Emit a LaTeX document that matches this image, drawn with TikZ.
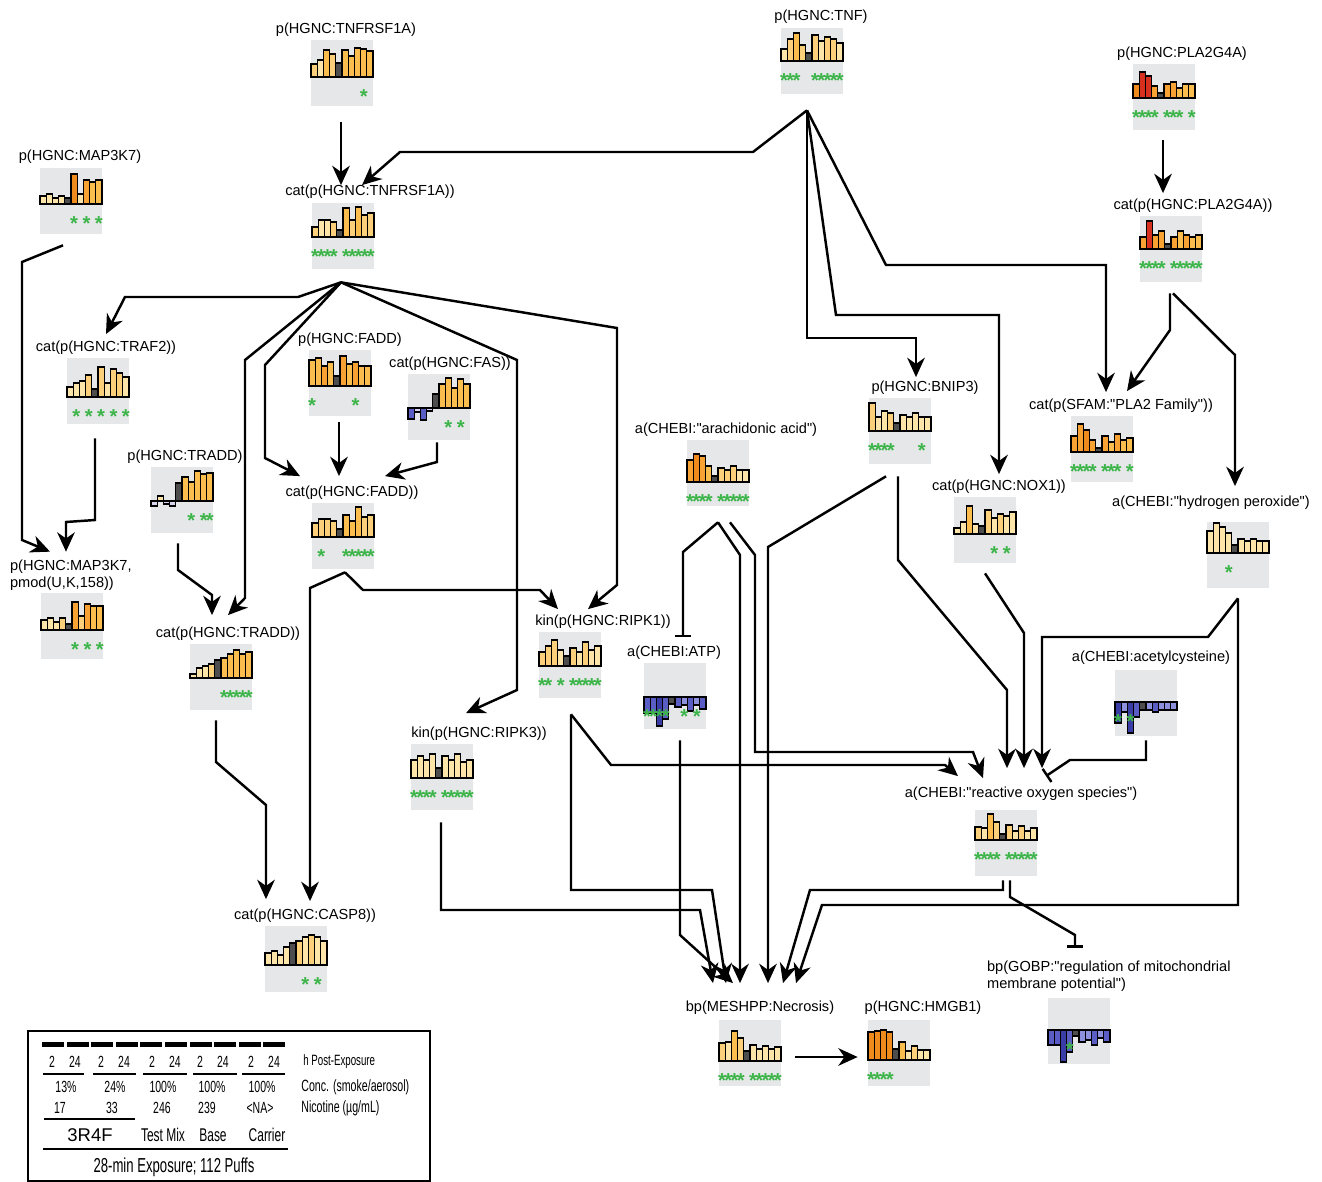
\documentclass[tikz,border=0pt]{standalone}
\usepackage{fontspec}
\setmainfont{Liberation Sans}[Ligatures=TeXOff]
\newfontfamily\narrowfont[FakeStretch=0.65]{Liberation Sans}
\usetikzlibrary{arrows.meta,calc}
\definecolor{cA}{HTML}{FDE4A8}
\definecolor{cB}{HTML}{FCD07A}
\definecolor{cC}{HTML}{FBBD4E}
\definecolor{cD}{HTML}{F7A233}
\definecolor{cE}{HTML}{EF8A1C}
\definecolor{cR}{HTML}{D7301F}
\definecolor{dk}{HTML}{4D4D4D}
\definecolor{bA}{HTML}{3B3DA6}
\definecolor{bB}{HTML}{5A5EC4}
\definecolor{bC}{HTML}{8D90DC}
\definecolor{lv}{HTML}{D9D4EE}
\definecolor{pg}{HTML}{E6E7E8}
\definecolor{sg}{HTML}{3DB54A}
\newcommand\lblfont{\fontsize{8.3}{9.6}\selectfont}
\tikzset{
  lbl/.style={font=\lblfont,inner sep=1pt},
  pbox/.style={fill=pg,minimum width=1.24cm,minimum height=1.32cm,inner sep=0pt},
  barbox/.style={draw=black,line width=0.75pt},
  sig/.style={font=\fontsize{11.5}{11.5}\selectfont\bfseries,text=sg,inner sep=0pt},
  act/.style={line width=1.4pt,-{Stealth[length=11pt,width=10pt,inset=3.5pt]}},
  inh/.style={line width=1.4pt,-{Bar[width=9pt]}},
  lg/.style={font=\narrowfont\fontsize{9.2}{10}\selectfont,inner sep=0pt},
  lgsm/.style={font=\narrowfont\fontsize{8.5}{9}\selectfont,inner sep=0pt},
  lgmid/.style={font=\narrowfont\fontsize{9.3}{10}\selectfont,inner sep=0pt},
  lgbig/.style={font=\narrowfont\fontsize{10.5}{12}\selectfont,inner sep=0pt}
}
\begin{document}
\begin{tikzpicture}[x=0.02cm,y=-0.02cm]
\useasboundingbox (0,0) rectangle (1322,1182);
\def\panel#1#2#3#4#5#6{%
  \node[pbox] (#1) at (#2+31,#3+33) {};
  \foreach \hh/\cc [count=\i] in {#5} \draw[barbox,fill=\cc] (#2+\i*6.2-6.2,#3+#4) rectangle ++(6.2,{-1*(\hh)});
  \foreach \s in {#6} \node[sig] (#1-\s) at (#2+\s*6.2-3.1,#3+#4+20) {*};
}
% panels
\panel{tnfrB}{311}{40}{37}{13/cB,17/cA,27/cC,23/cB,14/dk,27/cC,21/cC,29/cC,28/cC,26/cC}{9}
\panel{tnfB}{781}{28}{33}{12/cA,22/cB,28/cC,16/cB,8/dk,26/cB,20/cA,24/cB,22/cB,18/cA}{1,2,3,6,7,8,9,10}
\panel{plaB}{1133}{64}{34}{14/cE,26/cR,22/cR,12/cD,5/dk,14/cD,16/cD,10/cC,14/cC,14/cC}{1,2,3,4,6,7,8,10}
\panel{mapB}{40}{168}{36}{8/cA,10/cA,6/cA,8/cA,6/dk,30/cE,10/cA,24/cD,22/cC,24/cC}{6,8,10}
\panel{ctnfrB}{312}{203}{34}{10/cB,17/cA,17/cA,15/cB,7/dk,29/cC,17/cB,30/cC,22/cB,24/cB}{1,2,3,4,6,7,8,9,10}
\panel{cplaB}{1140}{216}{33}{12/cD,28/cR,14/cD,18/cD,5/dk,12/cD,18/cC,14/cD,12/cC,14/cC}{1,2,3,4,6,7,8,9,10}
\panel{trafB}{67}{358}{39}{10/cA,14/cA,16/cA,22/cB,8/dk,30/cB,14/cA,28/cB,24/cB,20/cA}{2,4,6,8,10}
\panel{faddB}{309}{350}{36}{26/cC,28/cC,20/cD,24/cC,10/dk,30/cD,22/cC,24/cD,20/cC,20/cC}{1,8}
\panel{fasB}{408}{374}{34}{-11/bB,-4/lv,-12/bB,-3/lv,14/dk,24/cC,30/cC,20/cC,29/cC,24/cC}{7,9}
\panel{traddB}{151}{467}{34}{-5/lv,5/cA,-3/lv,-5/lv,18/dk,24/cC,19/cC,30/cC,27/cC,28/cC}{7,9,10}
\panel{cfaddB}{312}{503}{34}{14/cB,18/cB,18/cB,16/cB,8/dk,22/cC,16/cC,30/cC,20/cB,22/cB}{2,6,7,8,9,10}
\panel{bnipB}{869}{398}{33}{28/cB,14/cA,20/cA,18/cB,8/dk,16/cA,14/cA,18/cA,14/cA,14/cA}{1,2,3,4,9}
\panel{plafB}{1071}{416}{36}{16/cD,28/cD,22/cE,12/cD,4/dk,16/cD,10/cC,18/cD,12/cC,14/cC}{1,2,3,4,6,7,8,10}
\panel{arachB}{687}{440}{42}{22/cD,28/cE,26/cD,16/cC,6/dk,14/cB,12/cB,16/cB,12/cA,12/cA}{1,2,3,4,6,7,8,9,10}
\panel{noxB}{954}{497}{37}{6/cA,12/cA,28/cC,10/cA,8/dk,24/cB,16/cA,20/cB,18/cA,22/cA}{7,9}
\panel{hpB}{1207}{522}{31}{22/cA,30/cA,26/cA,20/cA,8/dk,14/cA,12/cA,14/cA,12/cA,12/cA}{4}
\panel{mappB}{41}{593}{37}{10/cA,12/cA,8/cA,12/cB,6/dk,28/cD,14/cB,26/cD,24/cC,24/cC}{6,8,10}
\panel{ctraddB}{190}{644}{34}{4/cA,10/cA,12/cA,14/cB,18/dk,20/cC,24/cC,28/cC,24/cC,26/cC}{6,7,8,9,10}
\panel{ripk1B}{539}{632}{34}{14/cB,20/cB,26/cB,16/cA,10/dk,18/cB,14/cA,24/cB,16/cA,20/cA}{1,2,4,6,7,8,9,10}
\panel{atpB}{644}{663}{34}{-16/bB,-16/bB,-29/bA,-22/bB,-7/dk,-10/bB,-8/bC,-14/bB,-8/bC,-12/bB}{1,2,3,4,7,9}
\panel{acetB}{1115}{670}{32}{-21/bA,-10/bC,-31/bA,-15/bB,-8/dk,-8/bC,-10/bB,-8/bC,-8/bC,-8/bC}{1,3}
\panel{ripk3B}{411}{744}{34}{18/cA,22/cA,18/cA,24/cA,10/dk,22/cA,18/cA,24/cA,16/cA,18/cA}{1,2,3,4,6,7,8,9,10}
\panel{rosB}{975}{810}{30}{13/cB,12/cA,26/cC,18/cB,6/dk,15/cB,9/cA,14/cB,9/cA,12/cA}{1,2,3,4,6,7,8,9,10}
\panel{caspB}{265}{926}{39}{12/cA,14/cA,10/cA,18/cA,22/dk,24/cB,28/cA,30/cB,28/cA,24/cA}{7,9}
\panel{mitoB}{1048}{998}{32}{-15/bB,-15/bB,-32/bA,-22/bB,-6/dk,-12/bC,-10/bC,-15/bB,-8/bC,-12/bB}{4}
\panel{necroB}{719}{1020}{41}{18/cB,19/cA,30/cC,23/cB,10/dk,16/cA,12/cA,15/cA,12/cA,14/cA}{1,2,3,4,6,7,8,9,10}
\panel{hmgbB}{868}{1020}{40}{28/cE,29/cE,30/cE,28/cE,11/dk,18/cC,9/cA,14/cB,10/cA,10/cA}{1,2,3,4}
% labels
\node[lbl] (tnfr) at (346,30) {p(HGNC:TNFRSF1A)};
\node[lbl] (tnf) at (821,17) {p(HGNC:TNF)};
\node[lbl] (pla) at (1182,54) {p(HGNC:PLA2G4A)};
\node[lbl] (map) at (80,157) {p(HGNC:MAP3K7)};
\node[lbl] (ctnfr) at (370,192) {cat(p(HGNC:TNFRSF1A))};
\node[lbl] (cpla) at (1193,206) {cat(p(HGNC:PLA2G4A))};
\node[lbl] (traf) at (106,348) {cat(p(HGNC:TRAF2))};
\node[lbl] (fadd) at (350,340) {p(HGNC:FADD)};
\node[lbl] (fas) at (450,364) {cat(p(HGNC:FAS))};
\node[lbl] (tradd) at (185,457) {p(HGNC:TRADD)};
\node[lbl] (cfadd) at (352,493) {cat(p(HGNC:FADD))};
\node[lbl] (bnip) at (925,388) {p(HGNC:BNIP3)};
\node[lbl] (plaf) at (1121,406) {cat(p(SFAM:"PLA2 Family"))};
\node[lbl] (arach) at (726,430) {a(CHEBI:"arachidonic acid")};
\node[lbl] (nox) at (999,487) {cat(p(HGNC:NOX1))};
\node[lbl] (hp) at (1211,503) {a(CHEBI:"hydrogen peroxide")};
\node[lbl,anchor=west,align=left] (mapp) at (8,575) {p(HGNC:MAP3K7,\\pmod(U,K,158))};
\node[lbl] (ctradd) at (228,634) {cat(p(HGNC:TRADD))};
\node[lbl] (ripk1) at (603,622) {kin(p(HGNC:RIPK1))};
\node[lbl] (atp) at (674,653) {a(CHEBI:ATP)};
\node[lbl] (acet) at (1151,658) {a(CHEBI:acetylcysteine)};
\node[lbl] (ripk3) at (479,734) {kin(p(HGNC:RIPK3))};
\node[lbl] (ros) at (1021,794) {a(CHEBI:"reactive oxygen species")};
\node[lbl] (casp) at (305,916) {cat(p(HGNC:CASP8))};
\node[lbl,anchor=west,align=left] (mito) at (985,976) {bp(GOBP:"regulation of mitochondrial\\membrane potential")};
\node[lbl] (necro) at (760,1008) {bp(MESHPP:Necrosis)};
\node[lbl] (hmgb) at (923,1008) {p(HGNC:HMGB1)};
% edges
\coordinate (tnfHub) at ([shift={(-5,16)}]tnfB.south);
\coordinate (ctnfrHub) at ([shift={(-2,13)}]ctnfrB.south);
\coordinate (cfaddHub) at ([shift={(2,3)}]cfaddB.south);
\coordinate (ripk1Out) at ([shift={(1,16)}]ripk1B.south);
\coordinate (arachOut) at ([shift={(0,16)}]arachB.south);
\coordinate (hpOut) at ([shift={(0,10)}]hpB.south);
\coordinate (rosOut) at ([shift={(-3,4)}]rosB.south);
\draw[act] ([shift={(-1,16)}]tnfrB.south) -- ([shift={(-29,2)}]ctnfr.north);
\draw[act] (tnfHub) -- (753,152) -- (400,152) -- ([shift={(-8,2)}]ctnfr.north);
\draw[act] (tnfHub) -- (807,338) -- (916,338) -- ([shift={(-9,-2)}]bnip.north);
\draw[act] (tnfHub) -- (836,315) -- (999,315) -- ([shift={(0,-4)}]nox.north);
\draw[act] (tnfHub) -- (886,265) -- (1106,265) -- ([shift={(-15,-5)}]plaf.north);
\draw[act] ([shift={(-1,10)}]plaB.south) -- ([shift={(-30,-4)}]cpla.north);
\draw[act] ([shift={(-1,11)}]cplaB.south) -- (1170,330) -- ([shift={(6,-6)}]plaf.north);
\draw[act] ([shift={(2,11)}]cplaB.south) -- (1235,355) -- ([shift={(24,-8)}]hp.north);
\draw[act] ([shift={(-8,11)}]mapB.south) -- (22,262) -- (22,540) -- ([shift={(42,-6)}]mapp.north west);
\draw[act] ([shift={(-3,14)}]trafB.south) -- (95,520) -- (66,522) -- ([shift={(58,-6)}]mapp.north west);
\draw[act] (ctnfrHub) -- (298,297) -- (125,297) -- ([shift={(0,-5)}]traf.north);
\draw[act] (ctnfrHub) -- (245,360) -- (245,598) -- ([shift={(0,-10)}]ctradd.north);
\draw[act] (ctnfrHub) -- (265,365) -- (265,458) -- ([shift={(-52,-8)}]cfadd.north);
\draw[act] (ctnfrHub) -- (517,360) -- (517,690) -- ([shift={(-13,-12)}]ripk3.north);
\draw[act] (ctnfrHub) -- (617,328) -- (617,585) -- ([shift={(-15,-4)}]ripk1.north);
\draw[act] ([shift={(-1,6)}]faddB.south) -- ([shift={(-13,-8)}]cfadd.north);
\draw[act] ([shift={(-2,2)}]fasB.south) -- (437,462) -- ([shift={(33,-8)}]cfadd.north);
\draw[act] ([shift={(-4,10)}]traddB.south) -- (178,570) -- (212,595) -- ([shift={(-16,-10)}]ctradd.north);
\draw[act] (cfaddHub) -- (310,588) -- ([shift={(5,-6)}]casp.north);
\draw[act] (cfaddHub) -- (363,590) -- (540,590) -- ([shift={(-45,-4)}]ripk1.north);
\draw[act] ([shift={(-5,10)}]ctraddB.south) -- (216,762) -- (266,805) -- ([shift={(-39,-8)}]casp.north);
\draw[act] (ripk1Out) -- (611,765) -- (945,765) -- ([shift={(-63,-9)}]ros.north);
\draw[act] (ripk1Out) -- (571,890) -- (712,890) -- ([shift={(-34,-16)}]necro.north);
\draw[act] ([shift={(-1,12)}]ripk3B.south) -- (441,910) -- (700,910) -- ([shift={(-47,-16)}]necro.north);
\draw[inh] (arachOut) -- (683,552) -- ([shift={(9,-7)}]atp.north);
\draw[act] (arachOut) -- (740,555) -- ([shift={(-20,-16)}]necro.north);
\draw[act] ([shift={(12,16)}]arachB.south) -- (755,555) -- (755,752) -- (973,752) -- ([shift={(-38,-7)}]ros.north);
\draw[act] ([shift={(5,11)}]atpB.south) -- (680,935) -- ([shift={(-27,-16)}]necro.north);
\draw[act] ([shift={(-14,12)}]bnipB.south) -- (768,547) -- ([shift={(8,-16)}]necro.north);
\draw[act] ([shift={(-2,12)}]bnipB.south) -- (898,560) -- (1007,690) -- ([shift={(-14,-17)}]ros.north);
\draw[act] ([shift={(0,10)}]noxB.south) -- (1024,633) -- ([shift={(3,-17)}]ros.north);
\draw[act] (hpOut) -- (1208,637) -- (1042,637) -- ([shift={(21,-17)}]ros.north);
\draw[act] (hpOut) -- (1238,905) -- (822,905) -- ([shift={(36,-16)}]necro.north);
\draw[inh] ([shift={(0,4)}]acetB.south) -- (1146,760) -- (1070,760) -- ([shift={(25,-9)}]ros.north);
\draw[act] (rosOut) -- (1003,890) -- (810,890) -- ([shift={(23,-16)}]necro.north);
\draw[inh] ([shift={(4,4)}]rosB.south) -- (1010,897) -- (1075,935) -- ([shift={(90,-11)}]mito.north west);
\draw[act] ([shift={(14,4)}]necroB.east) -- ([shift={(-10,4)}]hmgbB.west);
% legend
\draw[line width=0.9pt] (28,1031) rectangle (430,1181);
\foreach \i in {0,...,9} \fill (42+\i*24.6,1041.5) rectangle ++(22,5);
\foreach \x [count=\k] in {52,101,152,200,251} {\node[lg] (two\k) at (\x,1062) {2}; \node[lg] (tf\k) at (\x+23,1062) {24};}
\foreach \a/\b in {43/84,93/136,143/187,193/237,242/285} \draw[line width=0.6pt] (\a,1074) -- (\b,1074);
\foreach \x/\t [count=\k] in {66/13\%,115/24\%,163/100\%,212/100\%,262/100\%} \node[lg] (conc\k) at (\x,1087) {\t};
\foreach \x/\t [count=\k] in {60/17,112/33,162/246,207/239,260/<NA>} \node[lg] (nic\k) at (\x,1108) {\t};
\draw[line width=0.6pt] (44,1119) -- (135,1119);
\node[font=\fontsize{10.5}{12}\selectfont,inner sep=0pt] (rff) at (90,1135) {3R4F};
\node[lgbig] (tmix) at (163,1135) {Test Mix};
\node[lgbig] (base) at (213,1135) {Base};
\node[lgbig] (carr) at (267,1135) {Carrier};
\draw[line width=0.6pt] (43,1149) -- (288,1149);
\node[font=\narrowfont\fontsize{11.5}{12}\selectfont,inner sep=0pt] (puffs) at (174,1167) {28-min Exposure; 112 Puffs};
\node[lgsm,anchor=west] (hpe) at (303,1062) {h Post-Exposure};
\node[lgmid,anchor=west] (concl) at (301,1087) {Conc. (smoke/aerosol)};
\node[lgmid,anchor=west] (nicl) at (301,1108) {Nicotine (µg/mL)};
\end{tikzpicture}
\end{document}
